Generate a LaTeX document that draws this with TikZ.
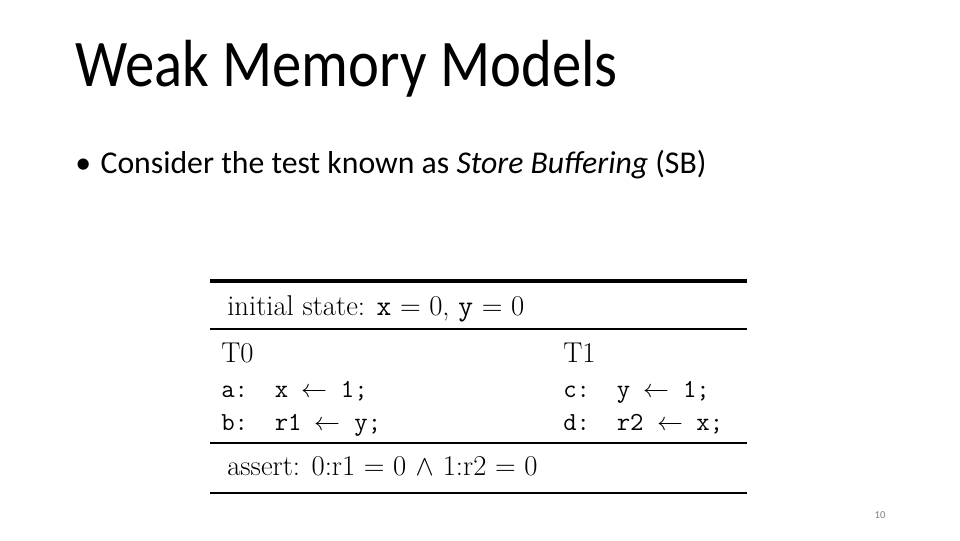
\documentclass[tikz,border=0pt]{standalone}
\usepackage{fontspec}
\setmainfont{Carlito}
\newfontfamily\lmr{Latin Modern Roman}
\newfontfamily\lmtt{Latin Modern Mono}
\usepackage{unicode-math}
\setmathfont{Latin Modern Math}
\begin{document}
\begin{tikzpicture}[x=0.75pt,y=-0.75pt,
  tbl/.style={anchor=base west,inner sep=0,font=\lmr\fontsize{21.5}{24}\selectfont},
  code/.style={anchor=base west,inner sep=0,font=\lmtt\fontsize{19.5}{22}\selectfont},
  rule/.style={draw=black}]
\useasboundingbox (0,0) rectangle (960,540);
\node[anchor=base west,inner sep=0,xscale=0.88,font=\fontsize{50}{55}\selectfont] (title) at (75,86) {Weak Memory Models};
\node[anchor=base west,inner sep=0,font=\fontsize{23.8}{26}\selectfont] (bullet) at (75,173) {•\hspace{0.3em}Consider the test known as \textit{Store Buffering} (SB)};
\coordinate (l1a) at (210,281); \coordinate (l1b) at (747,281);
\coordinate (l2a) at (210,329); \coordinate (l2b) at (747,329);
\coordinate (l3a) at (210,443); \coordinate (l3b) at (747,443);
\coordinate (l4a) at (210,493); \coordinate (l4b) at (747,493);
\draw[rule,line width=3pt] (l1a) -- (l1b);
\draw[rule,line width=1pt] (l2a) -- (l2b);
\draw[rule,line width=1pt] (l3a) -- (l3b);
\draw[rule,line width=2.2pt] (l4a) -- (l4b);
\node[tbl] (init) at (227,315) {initial state: {\lmtt x} = 0, {\lmtt y} = 0};
\node[tbl] (t0) at (221,362) {T0};
\node[tbl] (t1) at (563,362) {T1};
\node[code] (a) at (221,397) {a:\ \ x $\leftarrow$ 1;};
\node[code] (b) at (221,430) {b:\ \ r1 $\leftarrow$ y;};
\node[code] (c) at (563,397) {c:\ \ y $\leftarrow$ 1;};
\node[code] (d) at (563,430) {d:\ \ r2 $\leftarrow$ x;};
\node[tbl] (as) at (227,475) {assert: 0:r1 = 0 $\wedge$ 1:r2 = 0};
\node[anchor=base,inner sep=0,text=gray,font=\fontsize{8}{9}\selectfont] (pg) at (880,518) {10};
\end{tikzpicture}
\end{document}
